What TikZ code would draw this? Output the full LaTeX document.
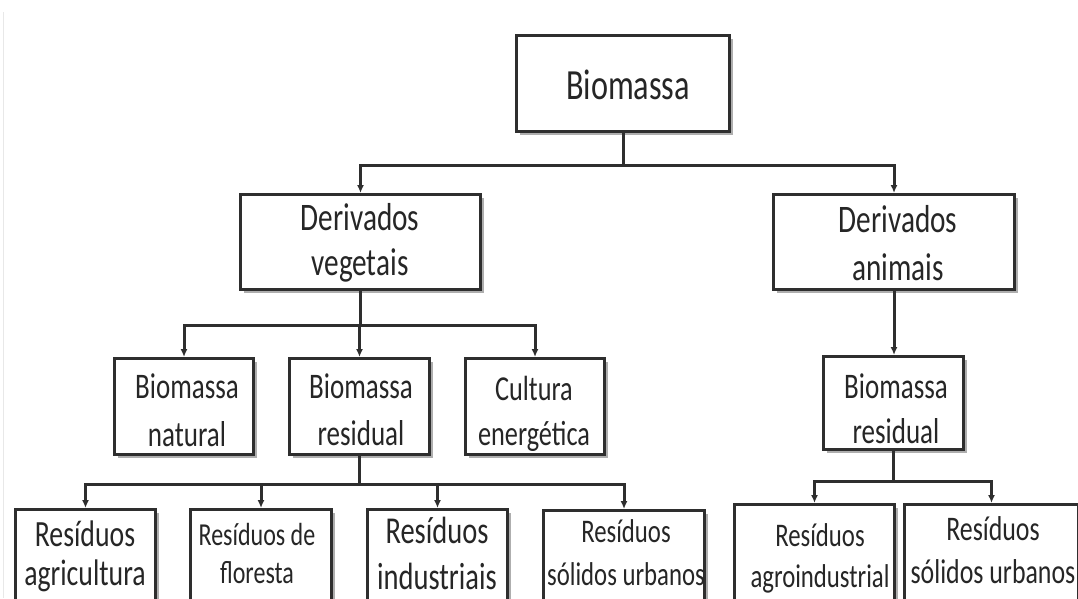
\documentclass[tikz,border=0pt]{standalone}
\usepackage{fontspec}
\setmainfont{Carlito}[FakeStretch=0.75]
\usetikzlibrary{arrows.meta,shadows}
\definecolor{ink}{HTML}{262626}
\definecolor{edge}{HTML}{2E2E2E}
\newcommand{\twolines}[2]{\begin{tabular}[t]{@{}c@{}}#1\\#2\end{tabular}}
\tikzset{
  box/.style={draw=edge, line width=3pt, fill=white, rectangle, inner sep=0pt,
    anchor=north west,
    drop shadow={shadow xshift=3.5pt, shadow yshift=-3.5pt, opacity=0.45, fill=black!70}},
  lbl/.style={anchor=base, inner sep=0pt, text=ink},
  conn/.style={draw=edge, line width=3pt},
  arr/.style={conn, -{Latex[length=8pt,width=7pt]}},
}
\begin{document}
\begin{tikzpicture}[x=1pt, y=-1pt]
\useasboundingbox (0,0) rectangle (1078,598);
\clip (0,0) rectangle (1078,598);
\fill[white] (0,0) rectangle (1078,598);
\draw[gray!18, line width=1pt] (3.5,12) -- (3.5,598);

% boxes
\node[box, minimum width=213pt, minimum height=96pt] (top) at (515,34) {};
\node[box, minimum width=240pt, minimum height=95pt] (dv) at (239,193) {};
\node[box, minimum width=241pt, minimum height=95pt] (da) at (772,193) {};
\node[box, minimum width=139pt, minimum height=96pt] (bn) at (113,357) {};
\node[box, minimum width=140pt, minimum height=96pt] (br) at (288,357) {};
\node[box, minimum width=139pt, minimum height=96pt] (ce) at (464,357) {};
\node[box, minimum width=140pt, minimum height=93pt] (brr) at (822,355) {};
\node[box, minimum width=140pt, minimum height=120pt] (agr) at (14,508) {};
\node[box, minimum width=141pt, minimum height=120pt] (flo) at (189,508) {};
\node[box, minimum width=140pt, minimum height=120pt] (ind) at (366,508) {};
\node[box, minimum width=161pt, minimum height=120pt] (sol) at (542,509) {};
\node[box, minimum width=160pt, minimum height=120pt] (agi) at (733,503) {};
\node[box, minimum width=174pt, minimum height=120pt] (slr) at (903,503) {};

% texts
\node[lbl, font=\fontsize{43}{52}\selectfont] (ttop) at (628,99) {Biomassa};
\node[lbl, font=\fontsize{39}{45}\selectfont] (tdv) at (360,230) {\twolines{Derivados}{vegetais}};
\node[lbl, font=\fontsize{39}{48}\selectfont] (tda) at (898,232) {\twolines{Derivados}{animais}};
\node[lbl, font=\fontsize{36}{48}\selectfont] (tbn) at (187,398) {\twolines{Biomassa}{natural}};
\node[lbl, font=\fontsize{36}{47}\selectfont] (tbr) at (361,398) {\twolines{Biomassa}{residual}};
\node[lbl, font=\fontsize{35}{45}\selectfont] (tce) at (534,400) {\twolines{Cultura}{energética}};
\node[lbl, font=\fontsize{36}{45}\selectfont] (tbrr) at (896,398) {\twolines{Biomassa}{residual}};
\node[lbl, font=\fontsize{37}{39}\selectfont] (tagr) at (85,546) {\twolines{Resíduos}{agricultura}};
\node[lbl, font=\fontsize{32}{38}\selectfont] (tflo) at (257,545) {\twolines{Resíduos de}{floresta}};
\node[lbl, font=\fontsize{38}{46}\selectfont] (tind) at (437,543) {\twolines{Resíduos}{industriais}};
\node[lbl, font=\fontsize{33}{43}\selectfont] (tsol) at (626,542) {\twolines{Resíduos}{sólidos urbanos}};
\node[lbl, font=\fontsize{33}{41}\selectfont] (tagi) at (820,546) {\twolines{Resíduos}{agroindustrial}};
\node[lbl, font=\fontsize{34.5}{43}\selectfont] (tslr) at (993,540) {\twolines{Resíduos}{sólidos urbanos}};

% connectors
\path (top.south) ++(0,32) coordinate (j1);
\draw[conn] (top.south) -- (j1);
\draw[arr] (j1) -| (dv.north);
\draw[arr] (j1) -| (da.north);

\path (dv.south) ++(0,34) coordinate (j2);
\draw[conn] (dv.south) -- (j2);
\draw[arr] (j2) -| (bn.north);
\draw[arr] (j2) -| (br.north);
\draw[arr] (j2) -| (ce.north);

\path (br.south) ++(0,28) coordinate (j3);
\draw[conn] (br.south) -- (j3);
\draw[arr] (j3) -| (agr.north);
\draw[arr] (j3) -| (flo.north);
\draw[arr] (j3) -| (ind.north);
\draw[arr] (j3) -| (sol.north);

\draw[arr] (da.south) -- (da.south |- brr.north);

\path (brr.south) ++(0,30) coordinate (j4);
\draw[conn] (brr.south) -- (j4);
\draw[arr] (j4) -| (agi.north);
\draw[arr] (j4) -| (slr.north);
\end{tikzpicture}
\end{document}
